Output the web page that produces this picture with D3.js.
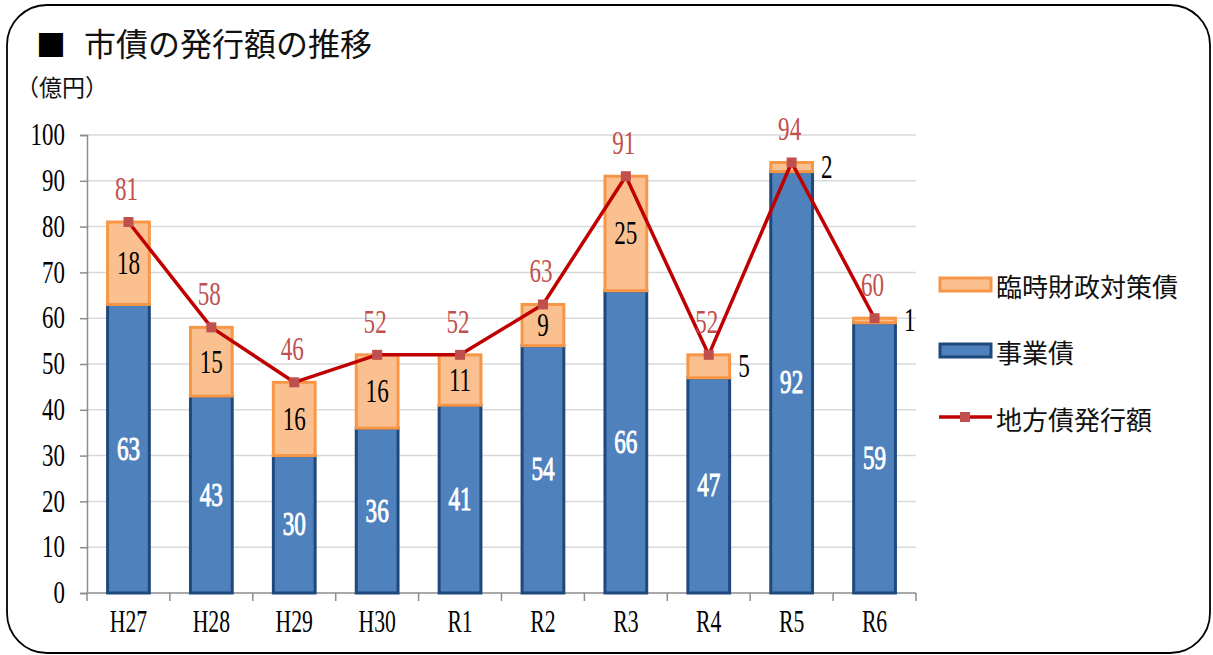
<!DOCTYPE html>
<html>
<head>
<meta charset="utf-8">
<script src="https://cdn.jsdelivr.net/npm/d3@7"></script>
<style>
  body { margin: 0; background: #fff; }
  svg { display: block; }
</style>
</head>
<body>
<div id="chart"></div>
<script>
// data (億円)
const years = ["H27", "H28", "H29", "H30", "R1", "R2", "R3", "R4", "R5", "R6"];
const jigyo = [63, 43, 30, 36, 41, 54, 66, 47, 92, 59];      // 事業債
const rinji = [18, 15, 16, 16, 11, 9, 25, 5, 2, 1];          // 臨時財政対策債
const total = [81, 58, 46, 52, 52, 63, 91, 52, 94, 60];      // 地方債発行額
const yTicks = [0, 10, 20, 30, 40, 50, 60, 70, 80, 90, 100];

(function() {
  const W = 1213, H = 655;
  const left = 87, right = 916, top = 135, bottom = 593;
  const numFont = "'Liberation Serif', 'DejaVu Serif', serif";
  const jpFont = "'Noto Sans CJK JP', 'Noto Sans', sans-serif";

  let svg = d3.select("#chart").append("svg")
    .attr("width", W)
    .attr("height", H);

  // rounded frame
  svg.append("rect")
    .attr("x", 7).attr("y", 5)
    .attr("width", 1203).attr("height", 648)
    .attr("rx", 40).attr("ry", 40)
    .attr("fill", "none")
    .attr("stroke", "#000")
    .attr("stroke-width", 1.8);

  svg.append("text")
    .attr("x", 36).attr("y", 56)
    .attr("font-family", jpFont)
    .attr("font-size", 30)
    .text("■");

  svg.append("text")
    .attr("x", 84).attr("y", 56)
    .attr("font-family", jpFont)
    .attr("font-size", 32)
    .attr("fill", "#111")
    .text("市債の発行額の推移");

  svg.append("text")
    .attr("x", 16).attr("y", 96)
    .attr("font-family", jpFont)
    .attr("font-size", 23)
    .attr("fill", "#111")
    .text("（億円）");

  let x = d3.scaleBand()
    .domain(years)
    .range([left, right])
    .paddingInner(0.46)
    .paddingOuter(0.23);

  let y = d3.scaleLinear()
    .domain([0, 100])
    .range([bottom, top]);

  // squeezed serif text, like the narrow mincho in the original
  function numText(g, px, py, str, opts) {
    let t = g.append("text")
      .attr("transform", "translate(" + px + "," + py + ") scale(" + (opts.sx || 0.7) + ",1)")
      .attr("text-anchor", opts.anchor || "middle")
      .attr("dominant-baseline", opts.baseline || "central")
      .attr("font-family", numFont)
      .attr("font-size", opts.size || 33)
      .attr("fill", opts.fill || "#000")
      .text(str);
    if (opts.stroke) t.attr("stroke", opts.fill).attr("stroke-width", opts.stroke);
    return t;
  }

  // gridlines
  svg.append("g")
    .selectAll("line")
    .data(yTicks.slice(1))
  .enter().append("line")
    .attr("x1", left).attr("x2", right)
    .attr("y1", d => y(d)).attr("y2", d => y(d))
    .attr("stroke", "#d9d9d9")
    .attr("stroke-width", 1.5);

  // y axis
  let yAxis = svg.append("g")
    .attr("transform", "translate(" + left + ",0)")
    .call(d3.axisLeft(y).tickValues(yTicks).tickSize(7).tickFormat(""));
  yAxis.select(".domain").attr("stroke", "#8c8c8c").attr("stroke-width", 1.5);
  yAxis.selectAll(".tick line").attr("stroke", "#8c8c8c").attr("stroke-width", 1.5);

  let yLab = svg.append("g");
  yTicks.forEach(t => numText(yLab, 65, y(t), t, { anchor: "end", size: 31, sx: 0.74 }));

  // x axis: ticks on category boundaries
  let bounds = d3.range(years.length + 1).map(i => left + i * (right - left) / years.length);
  svg.append("line")
    .attr("x1", left).attr("x2", right)
    .attr("y1", bottom).attr("y2", bottom)
    .attr("stroke", "#8c8c8c").attr("stroke-width", 1.5);
  svg.append("g")
    .selectAll("line")
    .data(bounds)
  .enter().append("line")
    .attr("x1", d => d).attr("x2", d => d)
    .attr("y1", bottom).attr("y2", bottom + 8)
    .attr("stroke", "#8c8c8c").attr("stroke-width", 1.5);

  let xLab = svg.append("g");
  years.forEach(d => numText(xLab, x(d) + x.bandwidth() / 2, 632, d, { baseline: "auto", size: 31, sx: 0.7 }));

  let bars = svg.append("g");

  // 事業債 (blue)
  bars.selectAll(".jigyo")
    .data(years)
  .enter().append("rect")
    .attr("class", "jigyo")
    .attr("x", d => x(d) + 1.5)
    .attr("width", x.bandwidth() - 3)
    .attr("y", (d, i) => y(jigyo[i]))
    .attr("height", (d, i) => y(0) - y(jigyo[i]))
    .attr("fill", "#4f81bd")
    .attr("stroke", "#1f497d")
    .attr("stroke-width", 3);

  // 臨時財政対策債 (orange)
  bars.selectAll(".rinji")
    .data(years)
  .enter().append("rect")
    .attr("class", "rinji")
    .attr("x", d => x(d) + 1.5)
    .attr("width", x.bandwidth() - 3)
    .attr("y", (d, i) => y(total[i]))
    .attr("height", (d, i) => y(jigyo[i]) - y(total[i]))
    .attr("fill", "#fac090")
    .attr("stroke", "#f79646")
    .attr("stroke-width", 3);

  let labels = svg.append("g");
  years.forEach((d, i) => {
    let cx = x(d) + x.bandwidth() / 2;
    numText(labels, cx, y(jigyo[i] / 2), jigyo[i], { fill: "#fff", stroke: 1, size: 33, sx: 0.7 });
    if (rinji[i] >= 9) {
      numText(labels, cx, y(jigyo[i] + rinji[i] / 2), rinji[i], { size: 33, sx: 0.7 });
    } else {
      numText(labels, x(d) + x.bandwidth() + 7, y(jigyo[i] + rinji[i] / 2), rinji[i], { anchor: "start", size: 33, sx: 0.7 });
    }
  });

  // 地方債発行額 line
  let line = d3.line()
    .x((d, i) => x(years[i]) + x.bandwidth() / 2)
    .y(d => y(d));

  svg.append("path")
    .datum(total)
    .attr("d", line)
    .attr("fill", "none")
    .attr("stroke", "#c00000")
    .attr("stroke-width", 3.5)
    .attr("stroke-linejoin", "round");

  svg.append("g")
    .selectAll("rect")
    .data(total)
  .enter().append("rect")
    .attr("x", (d, i) => x(years[i]) + x.bandwidth() / 2 - 5)
    .attr("y", d => y(d) - 5)
    .attr("width", 10).attr("height", 10)
    .attr("fill", "#c0504d");

  let totLab = svg.append("g");
  total.forEach((d, i) => {
    numText(totLab, x(years[i]) + x.bandwidth() / 2 - 2, y(d) - 22, d, { baseline: "auto", fill: "#c0504d", size: 33, sx: 0.7 });
  });

  // legend
  let legend = svg.append("g");
  legend.append("rect")
    .attr("x", 940).attr("y", 278).attr("width", 51).attr("height", 13)
    .attr("fill", "#fac090").attr("stroke", "#f79646").attr("stroke-width", 3);
  legend.append("rect")
    .attr("x", 940).attr("y", 344).attr("width", 51).attr("height", 13)
    .attr("fill", "#4f81bd").attr("stroke", "#1f497d").attr("stroke-width", 3);
  legend.append("line")
    .attr("x1", 939).attr("x2", 992).attr("y1", 417).attr("y2", 417)
    .attr("stroke", "#c00000").attr("stroke-width", 3.5);
  legend.append("rect")
    .attr("x", 960).attr("y", 412).attr("width", 10).attr("height", 10)
    .attr("fill", "#c0504d");

  let legendNames = ["臨時財政対策債", "事業債", "地方債発行額"];
  let legendY = [285, 351, 418];
  legendNames.forEach((n, i) => {
    legend.append("text")
      .attr("x", 996).attr("y", legendY[i])
      .attr("dominant-baseline", "central")
      .attr("font-family", jpFont)
      .attr("font-size", 26)
      .attr("fill", "#111")
      .text(n);
  });
})();
</script>
</body>
</html>
